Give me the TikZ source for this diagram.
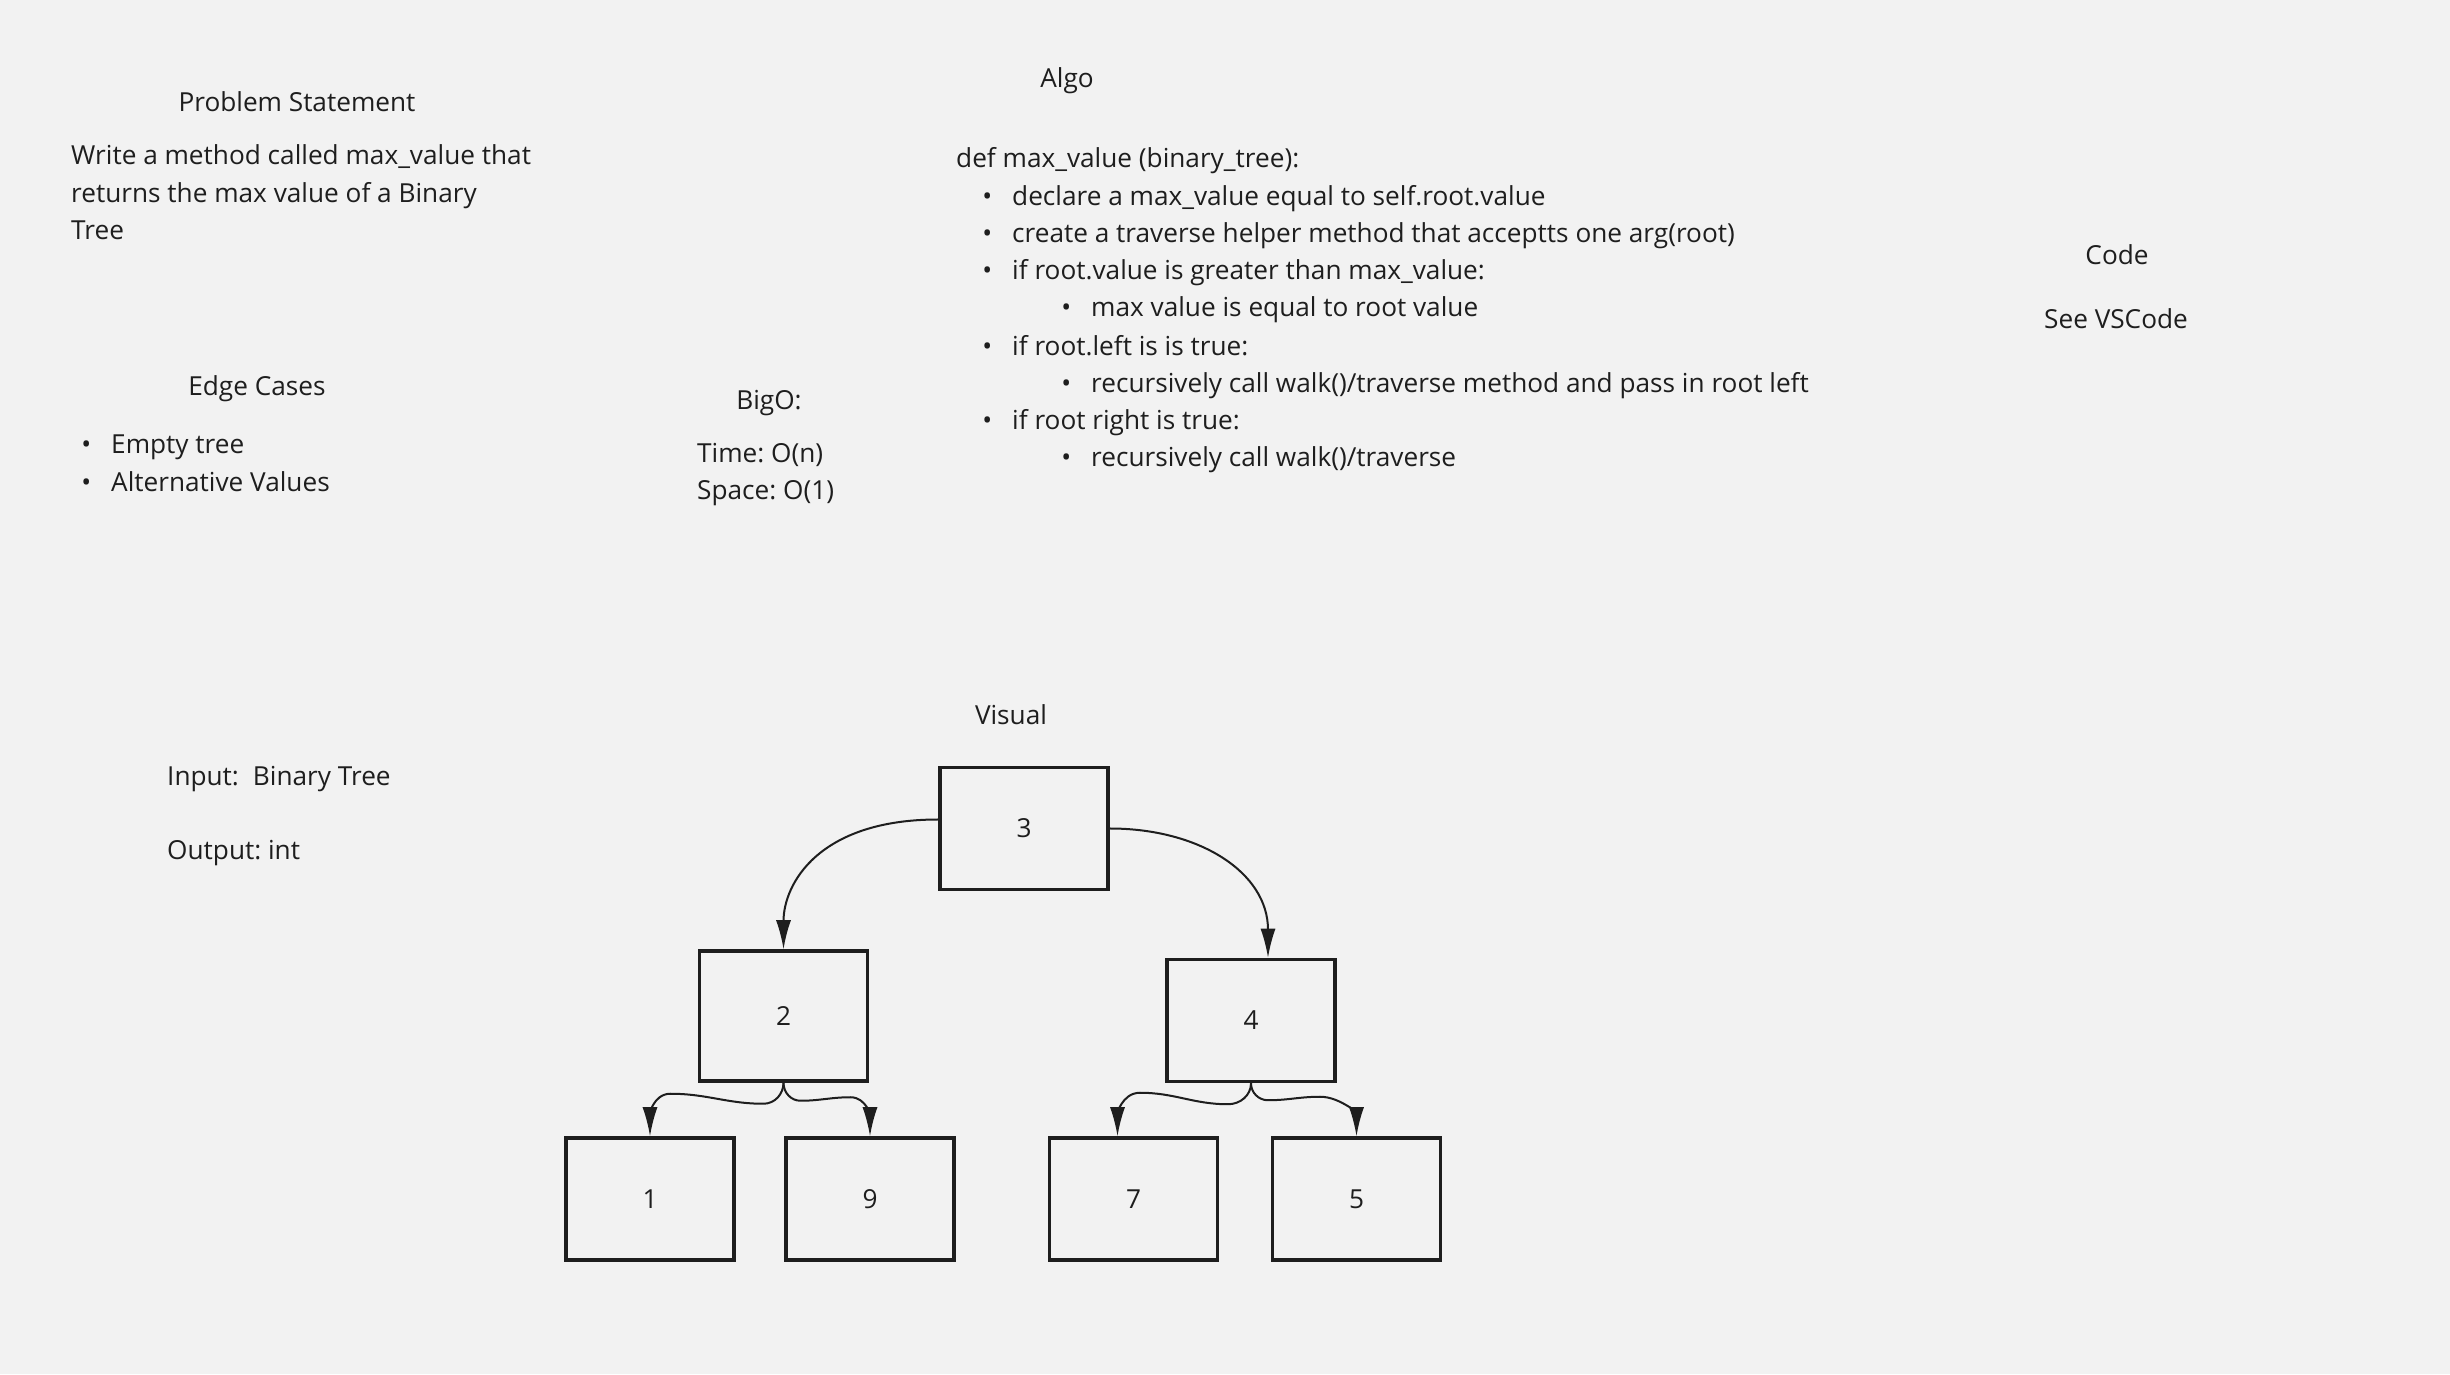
\documentclass[tikz,border=0pt]{standalone}
\usepackage{fontspec}
\setmainfont{Open Sans}
\usetikzlibrary{arrows.meta}
\definecolor{paper}{HTML}{F2F2F2}
\definecolor{ink}{HTML}{1E1E1E}
\tikzset{
	txt/.style={anchor=base west, inner sep=0pt, text=ink, font=\fontsize{26.2}{31}\selectfont\frenchspacing},
	ttl/.style={txt, anchor=base},
	bx/.style={draw=ink, line width=3.5pt, minimum width=168pt, minimum height=122pt, inner sep=0pt, text=ink, font=\fontsize{26.2}{31}\selectfont},
	arr/.style={draw=ink, line width=2pt, -{Latex[length=29pt,width=15pt]}}
}
\newcommand{\bul}{\llap{\textbullet\hspace{20pt}}}

\begin{document}
\begin{tikzpicture}[x=1pt, y=1pt]
		%%%%% START %%%%%
		
		\fill[paper] (0, 0) rectangle (2450, 1374);
		
		\node[ttl] (ps) at (297, 1262) {Problem Statement};
		\node[txt] (ps1) at (71, 1209) {Write a method called max\_value that};
		\node[txt] (ps2) at (71, 1171) {returns the max value of a Binary};
		\node[txt] (ps3) at (71, 1134) {Tree};
		
		\node[ttl] (ec) at (257, 978) {Edge Cases};
		\node[txt] (ec1) at (111, 920.5) {\bul Empty tree};
		\node[txt] (ec2) at (111, 882) {\bul Alternative Values};
		
		\node[ttl] (bo) at (769, 964) {BigO:};
		\node[txt] (bo1) at (697, 911) {Time: O(n)};
		\node[txt] (bo2) at (697, 874) {Space: O(1)};
		
		\node[ttl] (al) at (1067, 1286) {Algo};
		\node[txt] (al0) at (956, 1206) {def max\_value (binary\_tree):};
		\node[txt] (al1) at (1012, 1168) {\bul declare a max\_value equal to self.root.value};
		\node[txt] (al2) at (1012, 1131) {\bul create a traverse helper method that acceptts one arg(root)};
		\node[txt] (al3) at (1012, 1094) {\bul if root.value is greater than max\_value:};
		\node[txt] (al4) at (1091, 1057) {\bul max value is equal to root value};
		\node[txt] (al5) at (1012, 1018) {\bul if root.left is is true:};
		\node[txt] (al6) at (1091, 981) {\bul recursively call walk()/traverse method and pass in root left};
		\node[txt] (al7) at (1012, 944) {\bul if root right is true:};
		\node[txt] (al8) at (1091, 907) {\bul recursively call walk()/traverse};
		
		\node[ttl] (cd) at (2117, 1109) {Code};
		\node[ttl] (cd1) at (2116, 1045) {See VSCode};
		
		\node[txt] (io1) at (167, 588) {Input:\hspace{14pt}Binary Tree};
		\node[txt] (io2) at (167, 514) {Output: int};
		
		\node[ttl] (vs) at (1011, 649) {Visual};
		
		%%%%% TREE %%%%%
		
		\node[bx] (n3) at (1024, 545.5) {3};
		\node[bx, minimum height=130pt] (n2) at (783.5, 358) {2};
		\node[bx] (n4) at (1251, 353.5) {4};
		\node[bx] (n1) at (650, 175) {1};
		\node[bx] (n9) at (870, 175) {9};
		\node[bx] (n7) at (1133.5, 175) {7};
		\node[bx] (n5) at (1356.5, 175) {5};
		
		\draw[arr] ([yshift=9pt]n3.west) .. controls +(-120, 0) and +(0, 65) .. (n2.north);
		\draw[arr] (n3.east) .. controls +(90, 0) and +(0, 85) .. ([xshift=17pt]n4.north);
		
		\draw[arr] (n2.south) to[out=-90, in=0] ++(-20, -21) to[out=180, in=0] ++(-93, 10) to[out=180, in=90] (n1.north);
		\draw[arr] (n2.south) to[out=-90, in=180] ++(17, -18) to[out=0, in=180] ++(50, 3.5) to[out=0, in=90] (n9.north);
		\draw[arr] (n4.south) to[out=-90, in=0] ++(-23, -21) to[out=180, in=0] ++(-88, 11.5) to[out=180, in=90] ([xshift=-16pt]n7.north);
		\draw[arr] (n4.south) to[out=-90, in=180] ++(17, -17) to[out=0, in=180] ++(52, 3.5) to[out=0, in=90] (n5.north);
		
		%%%%% END %%%%%
	\end{tikzpicture}
\end{document}
